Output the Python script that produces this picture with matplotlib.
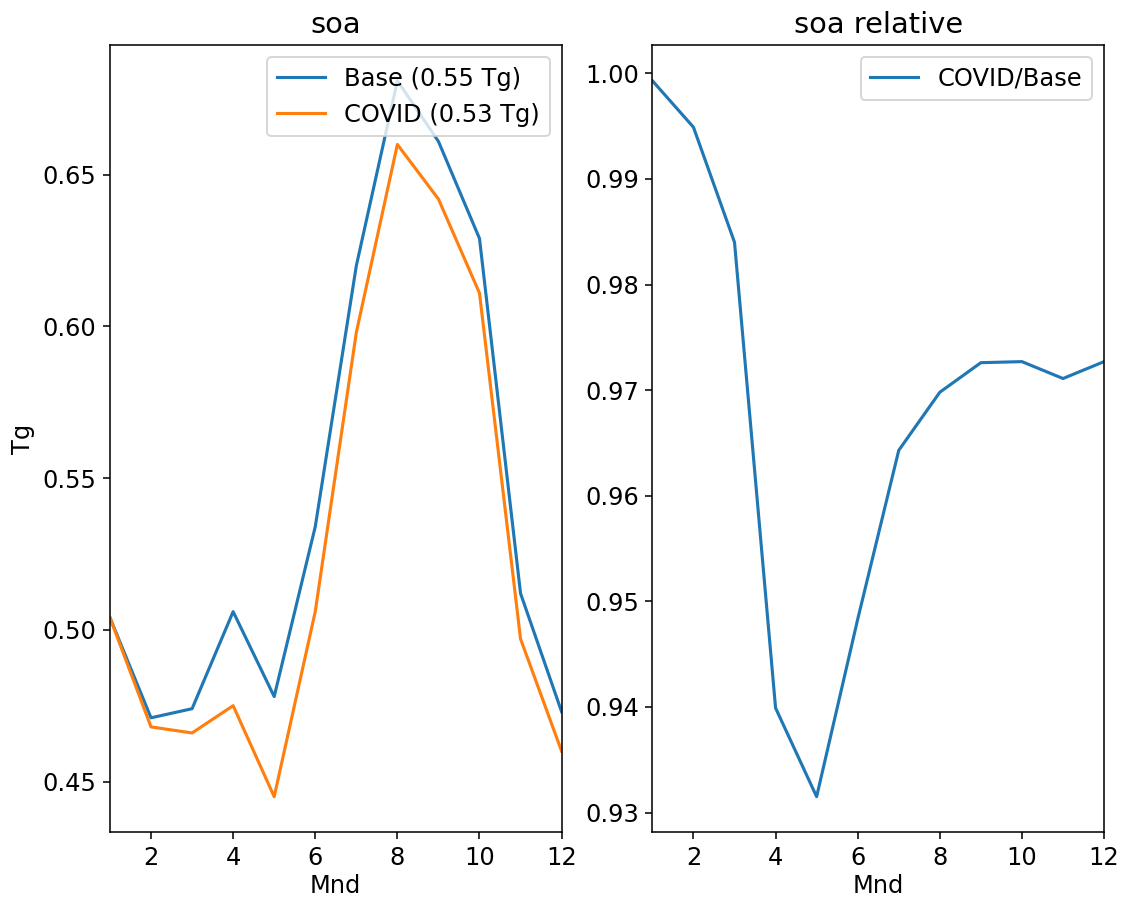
import matplotlib
matplotlib.use('Agg')
import matplotlib.pyplot as plt

# monthly soa burden, Tg
months = [1, 2, 3, 4, 5, 6, 7, 8, 9, 10, 11, 12]
base = [0.504, 0.471, 0.474, 0.506, 0.478, 0.534, 0.620, 0.681, 0.661, 0.629, 0.512, 0.473]
covid = [0.504, 0.468, 0.466, 0.475, 0.445, 0.506, 0.598, 0.660, 0.642, 0.611, 0.497, 0.460]
relative = [0.9993, 0.9949, 0.9840, 0.9399, 0.9315, 0.9483, 0.9643, 0.9698, 0.9726, 0.9727, 0.9711, 0.9727]

base_label = "Base (0.55 Tg)"
covid_label = "COVID (0.53 Tg)"
ratio_label = "COVID/Base"

plt.rcParams['font.size'] = 12.4
plt.rcParams['lines.linewidth'] = 1.6

fig, (ax1, ax2) = plt.subplots(1, 2, figsize=(1122 / 140, 899 / 140), dpi=140)

ax1.plot(months, base, label=base_label)
ax1.plot(months, covid, label=covid_label)
ax1.set_xlim(1, 12)
ax1.set_title("soa")
ax1.set_xlabel("Mnd", labelpad=2)
ax1.set_ylabel("Tg")
ax1.legend(loc="upper right")

ax2.plot(months, relative, label=ratio_label)
ax2.set_xlim(1, 12)
ax2.set_title("soa relative")
ax2.set_xlabel("Mnd", labelpad=2)
ax2.legend(loc="upper right")

plt.subplots_adjust(left=0.098, right=0.984, bottom=0.074, top=0.95, wspace=0.201)
plt.savefig("out.png")
plt.close()
